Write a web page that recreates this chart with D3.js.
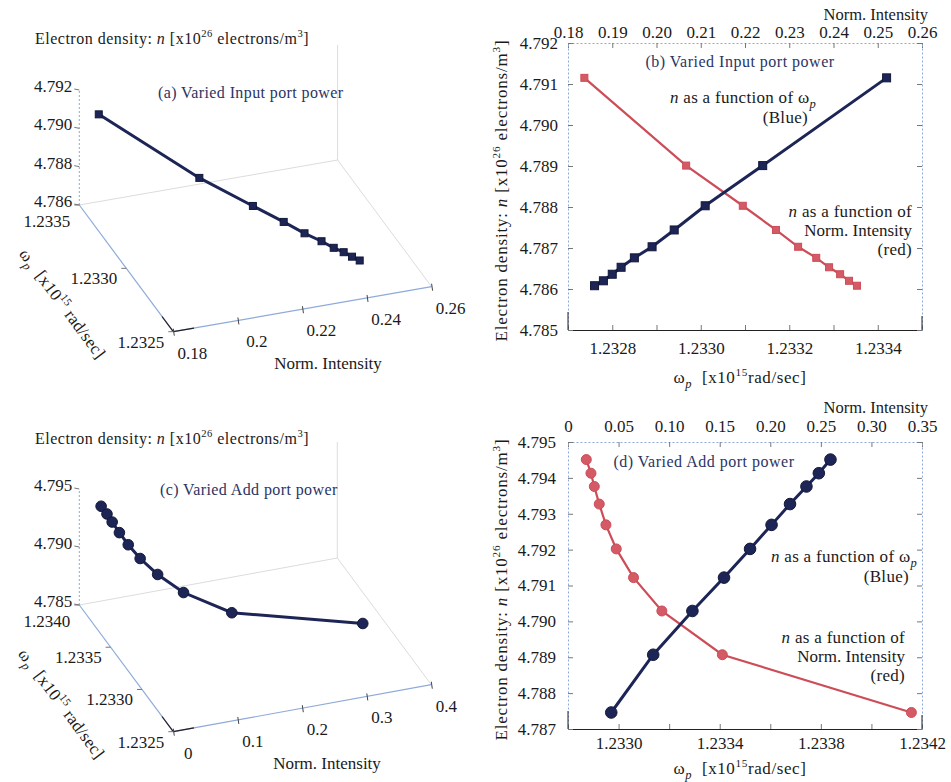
<!DOCTYPE html>
<html>
<head>
<meta charset="utf-8">
<script src="https://cdnjs.cloudflare.com/ajax/libs/d3/7.8.5/d3.min.js"></script>
<style>
  body { margin: 0; background: #fff; }
  text { font-family: "Liberation Serif", "Times New Roman", serif; white-space: pre; }
</style>
</head>
<body>
<svg id="fig" width="951" height="782"></svg>
<script>
/* global d3 */

// ---- (a)/(b): varied input port power ----
const inIntensity = [0.1837, 0.2067, 0.2195, 0.2270, 0.2320, 0.2361, 0.2390, 0.2415, 0.2435, 0.2453];
const inOmega     = [1.23342, 1.23314, 1.23301, 1.23294, 1.23289, 1.23285, 1.23282, 1.23280, 1.23278, 1.23276];
const inDensity   = [4.79115, 4.78901, 4.78803, 4.78744, 4.78703, 4.78676, 4.78653, 4.78636, 4.78620, 4.78608];

// ---- (c)/(d): varied add port power ----
const addIntensity = [0.0181, 0.0227, 0.0260, 0.0309, 0.0375, 0.0477, 0.0648, 0.0928, 0.1526, 0.3395];
const addOmega     = [1.233838, 1.233792, 1.233743, 1.233678, 1.233605, 1.233520, 1.233417, 1.233292, 1.233137, 1.232971];
const addDensity   = [4.79451, 4.79413, 4.79376, 4.79327, 4.79269, 4.79202, 4.79122, 4.79029, 4.78907, 4.78746];

// tick values
const aDensityTicks   = [4.786, 4.788, 4.790, 4.792];
const aOmegaTicks     = [1.2335, 1.2330, 1.2325];
const aIntensityTicks = [0.18, 0.2, 0.22, 0.24, 0.26];
const cDensityTicks   = [4.785, 4.790, 4.795];
const cOmegaTicks     = [1.2340, 1.2335, 1.2330, 1.2325];
const cIntensityTicks = [0, 0.1, 0.2, 0.3, 0.4];

const bDensityTicks   = [4.785, 4.786, 4.787, 4.788, 4.789, 4.790, 4.791, 4.792];
const bOmegaTicks     = [1.2327, 1.2328, 1.2329, 1.2330, 1.2331, 1.2332, 1.2333, 1.2334, 1.2335];
const bOmegaLabels    = [1.2328, 1.2330, 1.2332, 1.2334];
const bIntensityTicks = [0.18, 0.19, 0.20, 0.21, 0.22, 0.23, 0.24, 0.25, 0.26];
const dDensityTicks   = [4.787, 4.788, 4.789, 4.790, 4.791, 4.792, 4.793, 4.794, 4.795];
const dOmegaTicks     = [1.2328, 1.2330, 1.2332, 1.2334, 1.2336, 1.2338, 1.2340, 1.2342];
const dOmegaLabels    = [1.2330, 1.2334, 1.2338, 1.2342];
const dIntensityTicks = [0, 0.05, 0.10, 0.15, 0.20, 0.25, 0.30, 0.35];

const BLUE = '#1d2557', BLUE_DARK = '#121838';
const RED = '#cc4d58', RED_FILL = '#d45a65';
const NAVY_TEXT = '#2b3463';
const AXIS_BLUE = '#8eaad9';
const FS = 17;

const svg = d3.select('#fig');

// text with italic / sub / superscript pieces
function rich(sel, parts, fs) {
    let shift = 0;
    parts.forEach(p => {
        let ts = sel.append('tspan').text(p.t);
        let target = 0;
        if (p.sup) { target = -0.42 * fs; ts.attr('font-size', 0.66 * fs); }
        else if (p.sub) { target = 0.28 * fs; ts.attr('font-size', 0.74 * fs); }
        if (target !== shift) { ts.attr('dy', target - shift); shift = target; }
        if (p.it) ts.attr('font-style', 'italic');
    });
    return sel;
}

const densityParts = [
    {t: 'Electron density: '}, {t: 'n', it: true}, {t: ' [x10'}, {t: '26', sup: true},
    {t: ' electrons/m'}, {t: '3', sup: true}, {t: ']'}
];
const omegaParts = [
    {t: 'ω'}, {t: 'p', sub: true, it: true}, {t: '\u00a0\u00a0[x10'}, {t: '15', sup: true}, {t: 'rad/sec]'}
];
const omega3dParts = [
    {t: 'ω'}, {t: 'p', sub: true, it: true}, {t: '\u00a0\u00a0[x10'}, {t: '15', sup: true}, {t: ' rad/sec]'}
];
const funcOmegaParts = [{t: 'n', it: true}, {t: ' as a function of '}, {t: 'ω'}, {t: 'p', sub: true, it: true}];
const funcIntParts = [{t: 'n', it: true}, {t: ' as a function of'}];

function addText(g, x, y, opts) {
    let t = g.append('text')
        .attr('x', x).attr('y', y)
        .attr('font-size', opts.fs || FS)
        .attr('fill', opts.fill || '#1a1a1a')
        .attr('letter-spacing', opts.ls || null)
        .attr('text-anchor', opts.anchor || 'start');
    if (opts.rotate != null) t.attr('transform', `rotate(${opts.rotate},${x},${y})`);
    if (opts.parts) rich(t, opts.parts, opts.fs || FS);
    else t.text(opts.text);
    return t;
}

function seg(g, a, b, stroke, width, dash) {
    g.append('line')
        .attr('x1', a[0]).attr('y1', a[1]).attr('x2', b[0]).attr('y2', b[1])
        .attr('stroke', stroke).attr('stroke-width', width || 1)
        .attr('stroke-dasharray', dash || null);
}

// ---------------- 3D panels ----------------
function draw3d(cfg) {
    let g = svg.append('g');
    let sI = d3.scaleLinear().domain(cfg.iDomain).range([0, 1]);
    let sW = d3.scaleLinear().domain(cfg.wDomain).range([0, 1]);
    let sN = d3.scaleLinear().domain(cfg.nDomain).range([0, 1]);
    let P = (i, w, n) => [
        cfg.o[0] + sI(i) * cfg.eI[0] + sW(w) * cfg.eW[0],
        cfg.o[1] + sI(i) * cfg.eI[1] + sW(w) * cfg.eW[1] + sN(n) * cfg.eN
    ];
    let [i0, i1] = cfg.iDomain, [w0, w1] = cfg.wDomain, [n0, n1] = cfg.nDomain;

    // back box edges
    seg(g, P(i0, w0, n0), P(i1, w0, n0), '#dcdcdc', 1);
    seg(g, P(i1, w0, n0), P(i1, w0, n1), '#dcdcdc', 1);
    seg(g, P(i1, w0, n0), P(i1, w1, n0), '#dcdcdc', 1);

    // axes
    seg(g, P(i0, w0, n0), P(i0, w0, n1), AXIS_BLUE, 1, '2,2');
    seg(g, P(i0, w0, n0), P(i0, w1, n0), AXIS_BLUE, 1.2);
    seg(g, P(i0, w0 + (w1 - w0) * 0.88, n0), P(i0, w1, n0), '#222', 1.2);
    seg(g, P(i0, w1, n0), P(i1, w1, n0), AXIS_BLUE, 1.2);
    seg(g, P(i0, w1, n0), P(i0 + (i1 - i0) * 0.08, w1, n0), '#222', 1.2);

    // density ticks
    cfg.nTicks.forEach(v => {
        let p = P(i0, w0, v);
        seg(g, p, [p[0] - 5, p[1] - 1], '#777', 1);
        addText(g, p[0] - 7, p[1] - 4 + 0.35 * FS, {text: d3.format('.3f')(v), anchor: 'end'});
    });
    // omega ticks
    cfg.wTicks.forEach((v, k) => {
        let p = P(i0, v, n0);
        seg(g, p, [p[0] - 5, p[1]], '#777', 1);
        addText(g, p[0] - 9, p[1] + (k === 0 ? 16 : 10) + 0.35 * FS, {text: d3.format('.4f')(v), anchor: 'end'});
    });
    // intensity ticks
    cfg.iTicks.forEach(v => {
        let p = P(v, w1, n0);
        seg(g, [p[0], p[1] - 3], [p[0] + 1, p[1] + 4], '#444', 1);
        addText(g, p[0] + cfg.iLabelDx, p[1] + 21 + 0.35 * FS, {text: cfg.iFmt(v), anchor: 'middle'});
    });

    // axis titles
    addText(g, 35, cfg.titleY, {parts: densityParts, fs: 16, ls: 0.5});
    addText(g, cfg.subX, cfg.subY, {text: cfg.sub, fs: 16, ls: 0.4, fill: NAVY_TEXT});
    addText(g, cfg.intLabel[0], cfg.intLabel[1], {text: 'Norm. Intensity', anchor: 'middle'});
    addText(g, cfg.omegaLabel[0], cfg.omegaLabel[1], {parts: omega3dParts, anchor: 'middle', rotate: 53.4, ls: 0.3});

    // data
    let pts = cfg.intensity.map((v, k) => P(v, cfg.omega[k], cfg.density[k]));
    g.append('path')
        .datum(pts)
        .attr('d', d3.line())
        .attr('fill', 'none')
        .attr('stroke', BLUE)
        .attr('stroke-width', 3);
    if (cfg.marker === 'square') {
        g.selectAll('rect.m').data(pts).enter().append('rect')
            .attr('x', d => d[0] - 3.5).attr('y', d => d[1] - 3.5)
            .attr('width', 7).attr('height', 7)
            .attr('fill', BLUE).attr('stroke', BLUE_DARK);
    } else {
        g.selectAll('circle.m').data(pts).enter().append('circle')
            .attr('cx', d => d[0]).attr('cy', d => d[1]).attr('r', 5.3)
            .attr('fill', BLUE).attr('stroke', BLUE_DARK);
    }
}

// ---------------- 2D panels ----------------
function styleAxis(a, domainStroke, dash) {
    a.attr('font-family', null).attr('font-size', null);
    a.selectAll('.domain').attr('stroke', domainStroke).attr('stroke-dasharray', dash || null);
    a.selectAll('.tick line').attr('stroke', '#777');
    a.selectAll('.tick text').attr('font-size', FS).attr('fill', '#1a1a1a');
}

function draw2d(cfg) {
    let g = svg.append('g');
    let x = d3.scaleLinear().domain(cfg.xDomain).range([cfg.left, cfg.right]);
    let xt = d3.scaleLinear().domain(cfg.tDomain).range([cfg.left, cfg.right]);
    let y = d3.scaleLinear().domain(cfg.yDomain).range([cfg.bottom, cfg.top]);
    let isLabel = v => cfg.xLabels.some(l => Math.abs(l - v) < 1e-9);

    let ab = g.append('g').attr('transform', `translate(0,${cfg.bottom})`)
        .call(d3.axisBottom(x).tickValues(cfg.xTicks)
            .tickFormat(v => isLabel(v) ? d3.format('.4f')(v) : '')
            .tickSizeInner(-5).tickSizeOuter(0).tickPadding(cfg.padB));
    styleAxis(ab, '#222');

    let at = g.append('g').attr('transform', `translate(0,${cfg.top})`)
        .call(d3.axisTop(xt).tickValues(cfg.tTicks).tickFormat(cfg.tFmt)
            .tickSizeInner(-5).tickSizeOuter(0).tickPadding(cfg.padT));
    styleAxis(at, AXIS_BLUE, '2,2');

    let al = g.append('g').attr('transform', `translate(${cfg.left},0)`)
        .call(d3.axisLeft(y).tickValues(cfg.yTicks).tickFormat(d3.format('.3f'))
            .tickSizeInner(-5).tickSizeOuter(0).tickPadding(cfg.padL));
    styleAxis(al, AXIS_BLUE, '2,2');
    seg(g, [cfg.left, cfg.bottom - 18], [cfg.left, cfg.bottom], '#222', 1);

    let ar = g.append('g').attr('transform', `translate(${cfg.right},0)`)
        .call(d3.axisRight(y).tickValues(cfg.yTicks).tickFormat('')
            .tickSizeInner(-5).tickSizeOuter(0));
    styleAxis(ar, AXIS_BLUE, '2,2');
    seg(g, [cfg.right, cfg.bottom - 14], [cfg.right, cfg.bottom], '#222', 1);

    // red: n vs intensity (top axis); blue: n vs omega (bottom axis)
    let redPts = cfg.intensity.map((v, k) => [xt(v), y(cfg.density[k])]);
    let bluePts = cfg.omega.map((v, k) => [x(v), y(cfg.density[k])]);

    g.append('path').datum(redPts).attr('d', d3.line())
        .attr('fill', 'none').attr('stroke', RED).attr('stroke-width', 2.2);
    g.append('path').datum(bluePts).attr('d', d3.line())
        .attr('fill', 'none').attr('stroke', BLUE).attr('stroke-width', 3);

    if (cfg.marker === 'square') {
        g.selectAll('rect.r').data(redPts).enter().append('rect')
            .attr('x', d => d[0] - 3.5).attr('y', d => d[1] - 3.5).attr('width', 7).attr('height', 7)
            .attr('fill', RED_FILL).attr('stroke', RED);
        g.selectAll('rect.b').data(bluePts).enter().append('rect')
            .attr('x', d => d[0] - 4).attr('y', d => d[1] - 4).attr('width', 8).attr('height', 8)
            .attr('fill', BLUE).attr('stroke', BLUE_DARK);
    } else {
        g.selectAll('circle.r').data(redPts).enter().append('circle')
            .attr('cx', d => d[0]).attr('cy', d => d[1]).attr('r', 5)
            .attr('fill', RED_FILL).attr('stroke', RED);
        g.selectAll('circle.b').data(bluePts).enter().append('circle')
            .attr('cx', d => d[0]).attr('cy', d => d[1]).attr('r', 5.8)
            .attr('fill', BLUE).attr('stroke', BLUE_DARK);
    }

    // labels
    addText(g, cfg.right + 6, cfg.topTitleY, {text: 'Norm. Intensity', anchor: 'end', fs: 16.5});
    addText(g, (cfg.left + cfg.right) / 2 - 5, cfg.xTitleY, {parts: omegaParts, anchor: 'middle', ls: 0.6});
    addText(g, 507, (cfg.top + cfg.bottom) / 2 + 4, {parts: densityParts, anchor: 'middle', rotate: -90, fs: 17, ls: 0.8});
    addText(g, cfg.sub[0], cfg.sub[1], {text: cfg.sub[2], anchor: 'middle', fs: 16, ls: 0.5, fill: NAVY_TEXT});

    let nb = cfg.noteBlue, nr = cfg.noteRed;
    addText(g, nb[0], nb[1], {parts: funcOmegaParts, anchor: 'end', ls: 0.3});
    addText(g, nb[0] - 8, nb[1] + 20, {text: '(Blue)', anchor: 'end', ls: 0.3});
    addText(g, nr[0], nr[1], {parts: funcIntParts, anchor: 'end', ls: 0.3});
    addText(g, nr[0], nr[1] + 19, {text: 'Norm. Intensity', anchor: 'end'});
    addText(g, nr[0], nr[1] + 38, {text: '(red)', anchor: 'end', ls: 0.3});
}

draw3d({
    o: [79.3, 205], eI: [258.3, -45], eW: [94, 126.7], eN: -115,
    iDomain: [0.18, 0.26], wDomain: [1.2335, 1.2325], nDomain: [4.786, 4.792],
    nTicks: aDensityTicks, wTicks: aOmegaTicks, iTicks: aIntensityTicks,
    iFmt: d3.format(''), iLabelDx: 19,
    intensity: inIntensity, omega: inOmega, density: inDensity,
    marker: 'square',
    titleY: 44, sub: '(a) Varied Input port power', subX: 158, subY: 98,
    intLabel: [328, 369], omegaLabel: [58, 307]
});

draw3d({
    o: [79.3, 605], eI: [258, -47], eW: [94, 126.7], eN: -116,
    iDomain: [0, 0.4], wDomain: [1.2340, 1.2325], nDomain: [4.785, 4.795],
    nTicks: cDensityTicks, wTicks: cOmegaTicks, iTicks: cIntensityTicks,
    iFmt: d3.format(''), iLabelDx: 15,
    intensity: addIntensity, omega: addOmega, density: addDensity,
    marker: 'circle',
    titleY: 444, sub: '(c) Varied Add port power', subX: 160, subY: 495,
    intLabel: [327, 769], omegaLabel: [57, 707]
});

draw2d({
    left: 568, right: 922, top: 43, bottom: 330,
    xDomain: [1.2327, 1.2335], tDomain: [0.18, 0.26], yDomain: [4.785, 4.792],
    xTicks: bOmegaTicks, xLabels: bOmegaLabels, tTicks: bIntensityTicks, yTicks: bDensityTicks,
    tFmt: d3.format('.2f'), padB: 12, padT: 5, padL: 10,
    intensity: inIntensity, omega: inOmega, density: inDensity,
    marker: 'square', topTitleY: 20, xTitleY: 383,
    sub: [740, 67, '(b) Varied Input port power'],
    noteBlue: [816, 103], noteRed: [912, 217]
});

draw2d({
    left: 568, right: 922, top: 442, bottom: 729,
    xDomain: [1.2328, 1.2342], tDomain: [0, 0.35], yDomain: [4.787, 4.795],
    xTicks: dOmegaTicks, xLabels: dOmegaLabels, tTicks: dIntensityTicks, yTicks: dDensityTicks,
    tFmt: v => v === 0 ? '0' : d3.format('.2f')(v), padB: 8, padT: 10, padL: 12,
    intensity: addIntensity, omega: addOmega, density: addDensity,
    marker: 'circle', topTitleY: 413, xTitleY: 774,
    sub: [704, 467, '(d) Varied Add port power'],
    noteBlue: [917, 562], noteRed: [905, 643]
});
</script>
</body>
</html>
